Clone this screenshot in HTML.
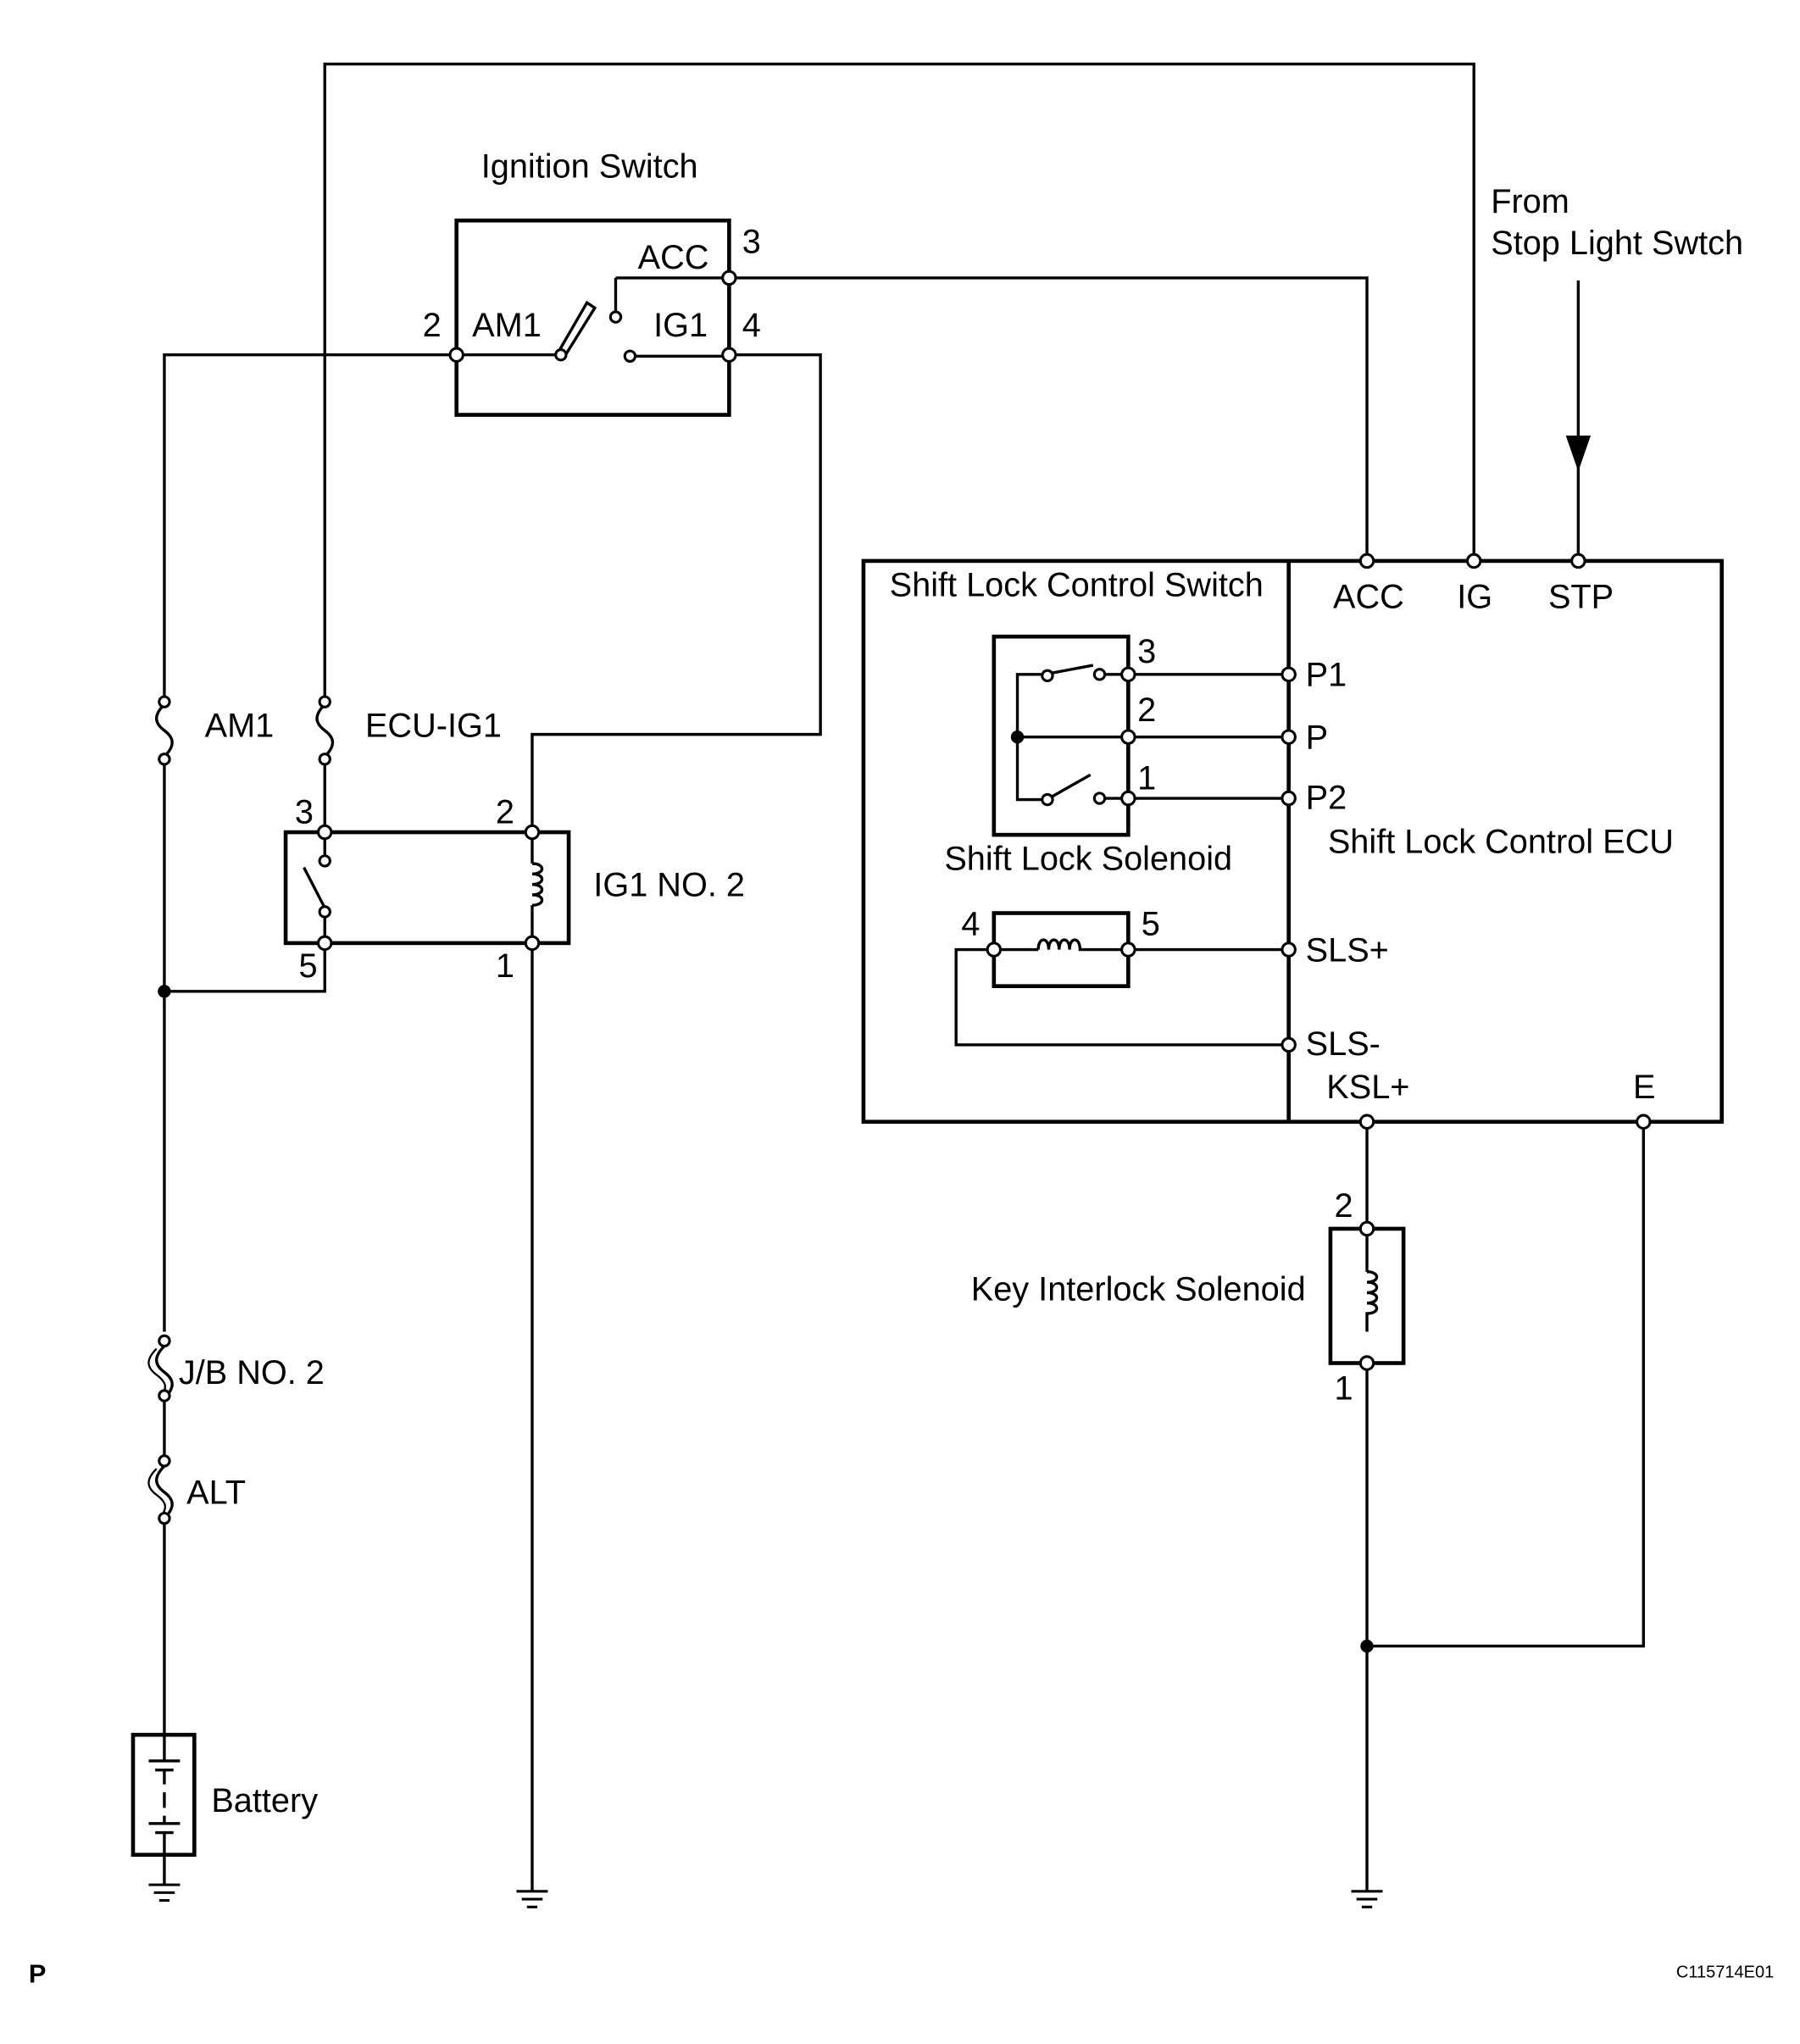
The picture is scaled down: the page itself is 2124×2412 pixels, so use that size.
<!DOCTYPE html>
<html><head><meta charset="utf-8"><style>
html,body{margin:0;padding:0;background:#fff;}
svg{display:block;}
text{font-family:"Liberation Sans",Arial,sans-serif;font-size:25.8px;fill:#000;}
</style></head><body>
<svg width="2124" height="2412" viewBox="0 0 1380 1567" xmlns="http://www.w3.org/2000/svg">
<g fill="none" stroke="#000" stroke-width="2.2">
<polyline points="249,535 249,49 1130,49 1130,430"/>
<rect x="350" y="169" width="209" height="149" stroke-width="3"/>
<polyline points="559,213 1048,213 1048,430"/>
<polyline points="559,272 629,272 629,563 408,563 408,638"/>
<polyline points="350,272 126,272 126,536"/>
<line x1="350" y1="272" x2="428" y2="272"/>
<line x1="472" y1="240" x2="472" y2="213"/><line x1="472" y1="213" x2="559" y2="213"/>
<line x1="487" y1="273" x2="559" y2="273"/>
<polygon points="428,270 450,232 456,236 433,273" fill="#fff"/>
<path d="M126,540 c-8,8 -8,14 0,20 c8,6 8,12 0,20"/>
<path d="M249,540 c-8,8 -8,14 0,20 c8,6 8,12 0,20"/>
<line x1="126" y1="584" x2="126" y2="1021"/>
<line x1="249" y1="584" x2="249" y2="638"/>
<rect x="219" y="638" width="217" height="85" stroke-width="3"/>
<line x1="249" y1="638" x2="249" y2="656"/>
<line x1="249" y1="702" x2="249" y2="723"/>
<line x1="249" y1="696" x2="233" y2="665"/>
<line x1="408" y1="638" x2="408" y2="662"/>
<line x1="408" y1="698" x2="408" y2="723"/>
<path d="M408,662 c10,0 10,8 0,8 c10,0 10,8 0,8 c10,0 10,8 0,8 c10,0 10,8 0,8 M408,694 v4"/>
<polyline points="126,760 249,760 249,723"/>
<line x1="408" y1="723" x2="408" y2="1445"/>
<path d="M126,1032 c-8,8 -8,14 0,20 c8,6 8,12 0,20"/>
<path d="M120,1034 c-8,8 -8,14 0,20 c8,6 8,10 4,16" stroke-width="1.5"/>
<line x1="126" y1="1072" x2="126" y2="1117"/>
<path d="M126,1124 c-8,8 -8,14 0,20 c8,6 8,12 0,20"/>
<path d="M120,1126 c-8,8 -8,14 0,20 c8,6 8,10 4,16" stroke-width="1.5"/>
<line x1="126" y1="1168" x2="126" y2="1330"/>
<rect x="102" y="1330" width="47" height="92" stroke-width="3"/>
<line x1="126" y1="1330" x2="126" y2="1350"/>
<line x1="114" y1="1350" x2="138" y2="1350"/><line x1="119" y1="1357" x2="133" y2="1357"/>
<line x1="126" y1="1357" x2="126" y2="1368"/>
<line x1="126" y1="1374" x2="126" y2="1386"/>
<line x1="126" y1="1392" x2="126" y2="1398"/>
<line x1="114" y1="1398" x2="138" y2="1398"/><line x1="119" y1="1405" x2="133" y2="1405"/>
<line x1="126" y1="1405" x2="126" y2="1422"/>
<line x1="126" y1="1422" x2="126" y2="1445"/>
<g stroke-width="2">
<line x1="114" y1="1445" x2="138" y2="1445"/><line x1="118" y1="1451" x2="134" y2="1451"/><line x1="122" y1="1457" x2="130" y2="1457"/>
<line x1="396" y1="1450" x2="420" y2="1450"/><line x1="400" y1="1456" x2="416" y2="1456"/><line x1="404" y1="1462" x2="412" y2="1462"/>
<line x1="1036" y1="1450" x2="1060" y2="1450"/><line x1="1040" y1="1456" x2="1056" y2="1456"/><line x1="1044" y1="1462" x2="1052" y2="1462"/>
</g>
<line x1="408" y1="1445" x2="408" y2="1450"/>
<rect x="662" y="430" width="658" height="430" stroke-width="3"/>
<line x1="988" y1="430" x2="988" y2="860" stroke-width="3"/>
<line x1="1210" y1="215" x2="1210" y2="430"/>
<polygon points="1202,335 1218,335 1210,358" fill="#000"/>
<rect x="762" y="488" width="103" height="152" stroke-width="3"/>
<line x1="865" y1="517" x2="988" y2="517"/>
<line x1="865" y1="565" x2="988" y2="565"/>
<line x1="865" y1="612" x2="988" y2="612"/>
<polyline points="800,517 780,517 780,613 800,613"/>
<line x1="780" y1="565" x2="865" y2="565"/>
<line x1="806" y1="516" x2="838" y2="510"/>
<line x1="847" y1="517" x2="865" y2="517"/>
<line x1="806" y1="611" x2="836" y2="594"/>
<line x1="847" y1="612" x2="865" y2="612"/>
<rect x="762" y="700" width="103" height="56" stroke-width="3"/>
<line x1="762" y1="728" x2="796" y2="728"/>
<line x1="830" y1="728" x2="865" y2="728"/>
<path d="M796,728 c0,-10 8,-10 8,0 c0,-10 8,-10 8,0 c0,-10 8,-10 8,0 c0,-10 8,-10 8,0 v0 h2"/>
<line x1="865" y1="728" x2="988" y2="728"/>
<polyline points="762,728 733,728 733,801 988,801"/>
<line x1="1048" y1="860" x2="1048" y2="942"/>
<rect x="1020" y="942" width="56" height="103" stroke-width="3"/>
<line x1="1048" y1="942" x2="1048" y2="975"/>
<path d="M1048,975 c10,0 10,8 0,8 c10,0 10,8 0,8 c10,0 10,8 0,8 c10,0 10,8 0,8 v14"/>
<line x1="1048" y1="1045" x2="1048" y2="1450"/>
<polyline points="1048,1262 1260,1262 1260,860"/>
</g>
<g fill="#fff" stroke="#000" stroke-width="2">
<circle cx="350" cy="272" r="5"/><circle cx="559" cy="213" r="5"/><circle cx="559" cy="272" r="5"/>
<circle cx="430" cy="272" r="4"/><circle cx="472" cy="243" r="4"/><circle cx="483" cy="273" r="4"/>
<circle cx="126" cy="538" r="4"/><circle cx="126" cy="582" r="4"/>
<circle cx="249" cy="538" r="4"/><circle cx="249" cy="582" r="4"/>
<circle cx="249" cy="638" r="5"/><circle cx="249" cy="723" r="5"/><circle cx="408" cy="638" r="5"/><circle cx="408" cy="723" r="5"/>
<circle cx="249" cy="660" r="4"/><circle cx="249" cy="699" r="4"/>
<circle cx="126" cy="1028" r="4"/><circle cx="126" cy="1070" r="4"/>
<circle cx="126" cy="1120" r="4"/><circle cx="126" cy="1164" r="4"/>
<circle cx="1048" cy="430" r="5"/><circle cx="1130" cy="430" r="5"/><circle cx="1210" cy="430" r="5"/>
<circle cx="865" cy="517" r="5"/><circle cx="865" cy="565" r="5"/><circle cx="865" cy="612" r="5"/>
<circle cx="988" cy="517" r="5"/><circle cx="988" cy="565" r="5"/><circle cx="988" cy="612" r="5"/>
<circle cx="803" cy="518" r="4"/><circle cx="843" cy="517" r="4"/>
<circle cx="803" cy="613" r="4"/><circle cx="843" cy="612" r="4"/>
<circle cx="762" cy="728" r="5"/><circle cx="865" cy="728" r="5"/>
<circle cx="988" cy="728" r="5"/><circle cx="988" cy="801" r="5"/>
<circle cx="1048" cy="860" r="5"/><circle cx="1260" cy="860" r="5"/>
<circle cx="1048" cy="942" r="5"/><circle cx="1048" cy="1045" r="5"/>
</g>
<g fill="#000"><circle cx="126" cy="760" r="5"/><circle cx="780" cy="565" r="5"/><circle cx="1048" cy="1262" r="5"/></g>
<text x="452" y="136" text-anchor="middle">Ignition Switch</text>
<text x="489" y="206">ACC</text><text x="569" y="194">3</text>
<text x="324" y="258">2</text><text x="362" y="258">AM1</text><text x="501" y="258">IG1</text><text x="569" y="258">4</text>
<text x="157" y="565">AM1</text><text x="280" y="565">ECU-IG1</text>
<text x="226" y="631">3</text><text x="380" y="631">2</text>
<text x="229" y="749">5</text><text x="380" y="749">1</text>
<text x="455" y="687">IG1 NO. 2</text>
<text x="137" y="1061">J/B NO. 2</text><text x="143" y="1153">ALT</text>
<text x="162" y="1389">Battery</text>
<text x="1143" y="163">From</text><text x="1143" y="195">Stop Light Swtch</text>
<text x="682" y="457">Shift Lock Control Switch</text>
<text x="1022" y="466">ACC</text><text x="1117" y="466">IG</text><text x="1187" y="466">STP</text>
<text x="872" y="508">3</text><text x="872" y="553">2</text><text x="872" y="605">1</text>
<text x="1001" y="526">P1</text><text x="1001" y="574">P</text><text x="1001" y="620">P2</text>
<text x="724" y="667">Shift Lock Solenoid</text>
<text x="1018" y="654">Shift Lock Control ECU</text>
<text x="737" y="717">4</text><text x="875" y="717">5</text>
<text x="1001" y="737">SLS+</text><text x="1001" y="809">SLS-</text>
<text x="1017" y="842">KSL+</text><text x="1252" y="842">E</text>
<text x="1023" y="933">2</text><text x="1023" y="1073">1</text>
<text x="1001" y="997" text-anchor="end">Key Interlock Solenoid</text>
<text x="22" y="1520" style="font-size:20px;font-weight:bold">P</text>
<text x="1360" y="1516" text-anchor="end" style="font-size:13px">C115714E01</text>
</svg>
</body></html>
